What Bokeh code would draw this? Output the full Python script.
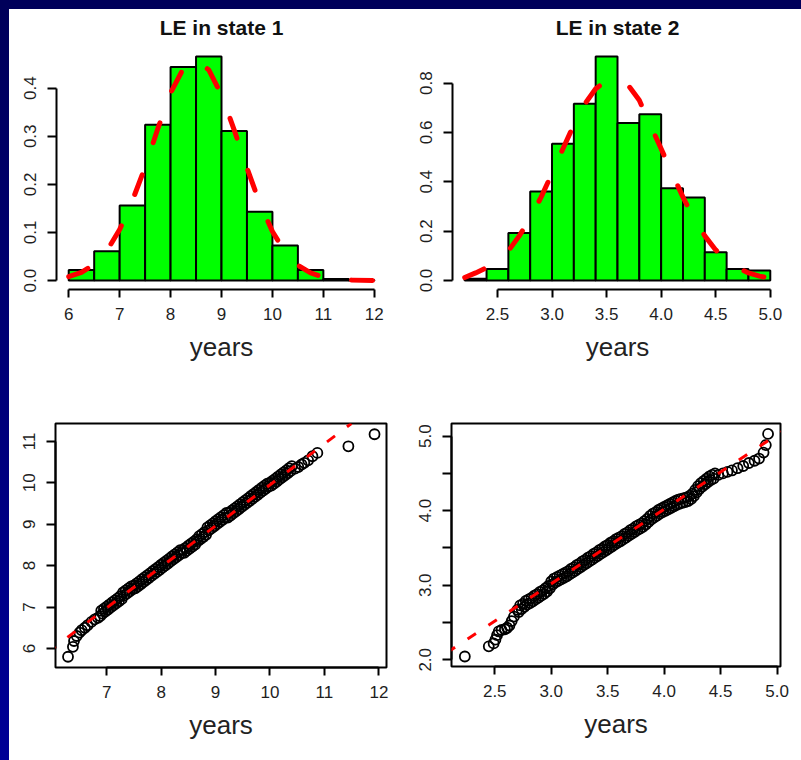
from bokeh.plotting import figure
from bokeh.models import Range1d, FixedTicker, PrintfTickFormatter, Slope, Title, Spacer
from bokeh.layouts import row, column
from bokeh.embed import file_html
from bokeh.resources import INLINE

# ---------------- data ----------------
titles = ["LE in state 1", "LE in state 2"]
xlabel = "years"

le1_edges = [6.0, 6.5, 7.0, 7.5, 8.0, 8.5, 9.0, 9.5, 10.0, 10.5, 11.0, 11.5, 12.0]
le1_density = [0.022, 0.061, 0.156, 0.324, 0.444, 0.466, 0.311, 0.143, 0.073, 0.022, 0.003, 0.001]
le1_curve_x = [6.0, 6.25, 6.5, 6.75, 7.0, 7.25, 7.5, 7.75, 8.0, 8.25, 8.5, 8.75, 9.0,
               9.25, 9.5, 9.75, 10.0, 10.25, 10.5, 10.75, 11.0, 11.5, 12.0]
le1_curve_y = [0.008, 0.017, 0.034, 0.062, 0.106, 0.166, 0.236, 0.316, 0.390, 0.441, 0.459,
               0.438, 0.386, 0.313, 0.234, 0.161, 0.102, 0.059, 0.032, 0.016, 0.007, 0.001, 0.0]

le2_edges = [2.2, 2.4, 2.6, 2.8, 3.0, 3.2, 3.4, 3.6, 3.8, 4.0, 4.2, 4.4, 4.6, 4.8, 5.0]
le2_density = [0.007, 0.047, 0.193, 0.361, 0.554, 0.716, 0.908, 0.638, 0.674, 0.374,
               0.336, 0.115, 0.047, 0.041]
le2_curve_x = [2.2, 2.3, 2.4, 2.5, 2.6, 2.7, 2.8, 2.9, 3.0, 3.1, 3.2, 3.3, 3.4, 3.5, 3.6,
               3.7, 3.8, 3.9, 4.0, 4.1, 4.2, 4.3, 4.4, 4.5, 4.6, 4.7, 4.8, 4.9, 5.0]
le2_curve_y = [0.012, 0.031, 0.052, 0.082, 0.120, 0.181, 0.252, 0.338, 0.434, 0.534, 0.631,
               0.715, 0.777, 0.810, 0.810, 0.790, 0.730, 0.631, 0.534, 0.434, 0.338, 0.252,
               0.181, 0.124, 0.082, 0.052, 0.031, 0.018, 0.010]

# QQ plot, state 1 (theoretical quantile, sample quantile)
qq1_x = [6.29, 6.38, 6.40, 6.45, 6.50, 6.54, 6.60, 6.65, 6.72, 6.78, 6.84, 6.88,
         6.900, 6.925, 6.950, 6.975, 7.000, 7.025, 7.050, 7.075, 7.100, 7.125,
         7.150, 7.175, 7.200, 7.225, 7.250, 7.275, 7.300, 7.325, 7.350, 7.375,
         7.400, 7.425, 7.450, 7.475, 7.500, 7.525, 7.550, 7.575, 7.600, 7.625,
         7.650, 7.675, 7.700, 7.725, 7.750, 7.775, 7.800, 7.825, 7.850, 7.875,
         7.900, 7.925, 7.950, 7.975, 8.000, 8.025, 8.050, 8.075, 8.100, 8.125,
         8.150, 8.175, 8.200, 8.225, 8.250, 8.275, 8.300, 8.325, 8.350, 8.375,
         8.400, 8.425, 8.450, 8.475, 8.500, 8.525, 8.550, 8.575, 8.600, 8.625,
         8.650, 8.675, 8.700, 8.725, 8.750, 8.775, 8.800, 8.825, 8.850, 8.875,
         8.900, 8.925, 8.950, 8.975, 9.000, 9.025, 9.050, 9.075, 9.100, 9.125,
         9.150, 9.175, 9.200, 9.225, 9.250, 9.275, 9.300, 9.325, 9.350, 9.375,
         9.400, 9.425, 9.450, 9.475, 9.500, 9.525, 9.550, 9.575, 9.600, 9.625,
         9.650, 9.675, 9.700, 9.725, 9.750, 9.775, 9.800, 9.825, 9.850, 9.875,
         9.900, 9.925, 9.950, 9.975, 10.000, 10.025, 10.050, 10.075, 10.100, 10.125,
         10.150, 10.175, 10.200, 10.225, 10.250, 10.275, 10.300, 10.325, 10.350, 10.375,
         10.400,
         10.46, 10.52, 10.58, 10.63, 10.70, 10.78, 10.87, 11.44, 11.92]
qq1_y = [5.80, 6.04, 6.18, 6.30, 6.38, 6.44, 6.50, 6.56, 6.64, 6.70, 6.74, 6.78,
         6.91, 6.84, 6.96, 6.89, 7.01, 6.94, 7.06, 6.99, 7.11, 7.04,
         7.16, 7.09, 7.21, 7.14, 7.26, 7.19, 7.35, 7.28, 7.40, 7.33,
         7.45, 7.38, 7.50, 7.43, 7.52, 7.45, 7.57, 7.50, 7.62, 7.55,
         7.67, 7.60, 7.72, 7.65, 7.77, 7.70, 7.82, 7.75, 7.87, 7.80,
         7.92, 7.85, 7.97, 7.90, 8.02, 7.95, 8.07, 8.00, 8.12, 8.05,
         8.17, 8.10, 8.22, 8.15, 8.27, 8.20, 8.32, 8.25, 8.37, 8.30,
         8.38, 8.31, 8.43, 8.36, 8.48, 8.41, 8.53, 8.46, 8.58, 8.51,
         8.63, 8.59, 8.71, 8.64, 8.76, 8.69, 8.81, 8.74, 8.92, 8.85,
         8.97, 8.90, 9.02, 8.95, 9.07, 9.00, 9.12, 9.05, 9.17, 9.10,
         9.22, 9.15, 9.27, 9.16, 9.28, 9.21, 9.33, 9.26, 9.38, 9.31,
         9.43, 9.36, 9.48, 9.41, 9.53, 9.46, 9.58, 9.51, 9.63, 9.56,
         9.68, 9.61, 9.73, 9.66, 9.78, 9.71, 9.83, 9.76, 9.88, 9.81,
         9.93, 9.86, 9.98, 9.91, 10.00, 9.93, 10.05, 9.98, 10.10, 10.03,
         10.15, 10.08, 10.20, 10.13, 10.25, 10.18, 10.30, 10.23, 10.35, 10.28,
         10.40,
         10.34, 10.38, 10.44, 10.48, 10.54, 10.64, 10.72, 10.88, 11.17]
qq1_line = {"gradient": 0.99, "intercept": 0.05}

# QQ plot, state 2
qq2_x = [2.235, 2.447, 2.49, 2.506, 2.52, 2.535, 2.56, 2.59, 2.61, 2.63, 2.65, 2.67,
         2.7000, 2.7125, 2.7250, 2.7375, 2.7500, 2.7625, 2.7750, 2.7875, 2.8000, 2.8125,
         2.8250, 2.8375, 2.8500, 2.8625, 2.8750, 2.8875, 2.9000, 2.9125, 2.9250, 2.9375,
         2.9500, 2.9625, 2.9750, 2.9875, 3.0000, 3.0125, 3.0250, 3.0375, 3.0500, 3.0625,
         3.0750, 3.0875, 3.1000, 3.1125, 3.1250, 3.1375, 3.1500, 3.1625, 3.1750, 3.1875,
         3.2000, 3.2125, 3.2250, 3.2375, 3.2500, 3.2625, 3.2750, 3.2875, 3.3000, 3.3125,
         3.3250, 3.3375, 3.3500, 3.3625, 3.3750, 3.3875, 3.4000, 3.4125, 3.4250, 3.4375,
         3.4500, 3.4625, 3.4750, 3.4875, 3.5000, 3.5125, 3.5250, 3.5375, 3.5500, 3.5625,
         3.5750, 3.5875, 3.6000, 3.6125, 3.6250, 3.6375, 3.6500, 3.6625, 3.6750, 3.6875,
         3.7000, 3.7125, 3.7250, 3.7375, 3.7500, 3.7625, 3.7750, 3.7875, 3.8000, 3.8125,
         3.8250, 3.8375, 3.8500, 3.8625, 3.8750, 3.8875, 3.9000, 3.9125, 3.9250, 3.9375,
         3.9500, 3.9625, 3.9750, 3.9875, 4.0000, 4.0125, 4.0250, 4.0375, 4.0500, 4.0625,
         4.0750, 4.0875, 4.1000, 4.1125, 4.1250, 4.1375, 4.1500, 4.1625, 4.1750, 4.1875,
         4.2000, 4.2125, 4.2250, 4.2375, 4.2500, 4.2625, 4.2750, 4.2875, 4.3000, 4.3125,
         4.3250, 4.3375, 4.3500, 4.3625, 4.3750, 4.3875, 4.4000, 4.4125, 4.4250, 4.4375,
         4.4500,
         4.48, 4.52, 4.56, 4.60, 4.65, 4.70, 4.75, 4.80, 4.84, 4.88, 4.90, 4.92]
qq2_y = [2.044, 2.18, 2.22, 2.27, 2.33, 2.38, 2.40, 2.41, 2.43, 2.46, 2.52, 2.58,
         2.67, 2.64, 2.73, 2.68, 2.75, 2.71, 2.79, 2.74, 2.81, 2.76,
         2.83, 2.785, 2.86, 2.81, 2.88, 2.835, 2.91, 2.86, 2.93, 2.885,
         2.96, 2.915, 2.99, 2.96, 3.05, 3.01, 3.09, 3.04, 3.11, 3.06,
         3.13, 3.08, 3.15, 3.10, 3.17, 3.12, 3.19, 3.145, 3.22, 3.17,
         3.24, 3.195, 3.27, 3.22, 3.29, 3.245, 3.32, 3.27, 3.34, 3.295,
         3.37, 3.32, 3.39, 3.345, 3.42, 3.37, 3.44, 3.395, 3.47, 3.42,
         3.49, 3.445, 3.52, 3.47, 3.54, 3.495, 3.57, 3.52, 3.59, 3.545,
         3.62, 3.57, 3.64, 3.59, 3.66, 3.615, 3.69, 3.64, 3.71, 3.665,
         3.74, 3.69, 3.76, 3.715, 3.79, 3.74, 3.81, 3.76, 3.83, 3.785,
         3.86, 3.815, 3.89, 3.85, 3.93, 3.885, 3.96, 3.91, 3.98, 3.935,
         4.01, 3.96, 4.03, 3.98, 4.05, 4.00, 4.07, 4.02, 4.09, 4.04,
         4.11, 4.06, 4.13, 4.08, 4.15, 4.095, 4.16, 4.105, 4.17, 4.115,
         4.18, 4.13, 4.20, 4.155, 4.23, 4.195, 4.28, 4.245, 4.33, 4.29,
         4.37, 4.325, 4.40, 4.355, 4.43, 4.385, 4.46, 4.41, 4.48, 4.43,
         4.50,
         4.48, 4.50, 4.52, 4.54, 4.57, 4.60, 4.64, 4.67, 4.70, 4.78, 4.88, 5.03]
qq2_line = {"gradient": 1.0, "intercept": 0.02}

tl_xticks = [6, 7, 8, 9, 10, 11, 12]
tl_yticks = [0.0, 0.1, 0.2, 0.3, 0.4]
tr_xticks = [2.5, 3.0, 3.5, 4.0, 4.5, 5.0]
tr_yticks = [0.0, 0.2, 0.4, 0.6, 0.8]
bl_xticks = [7, 8, 9, 10, 11, 12]
bl_yticks = [6, 7, 8, 9, 10, 11]
br_xticks = [2.5, 3.0, 3.5, 4.0, 4.5, 5.0]
br_yticks = [2.0, 2.5, 3.0, 3.5, 4.0, 4.5, 5.0]
br_hidden_ylabels = [2.5, 3.5, 4.5]

# ---------------- styling ----------------
FONT = "Liberation Sans"
TXT = "#1e1e1e"
NAVY = "linear-gradient(#00005a, #000096)"


def make_fig(xr, yr, fw, fh, ml, mr, mt, mb, xticks, yticks, xfmt, yfmt, title=None, box=False):
    p = figure(frame_width=fw, frame_height=fh, x_range=Range1d(*xr), y_range=Range1d(*yr),
               output_backend="svg", toolbar_location=None,
               min_border_left=ml, min_border_right=mr, min_border_top=mt, min_border_bottom=mb)
    p.grid.visible = False
    p.background_fill_color = "white"
    p.border_fill_color = "white"
    if box:
        p.outline_line_color = "black"
        p.outline_line_width = 2
    else:
        p.outline_line_color = None
    for ax, ticks, fmt in ((p.xaxis[0], xticks, xfmt), (p.yaxis[0], yticks, yfmt)):
        ax.ticker = FixedTicker(ticks=ticks)
        ax.bounds = (min(ticks), max(ticks))
        ax.formatter = PrintfTickFormatter(format=fmt)
        ax.axis_line_width = 2
        ax.major_tick_line_width = 2
        ax.major_tick_in = 0
        ax.minor_tick_in = 0
        ax.minor_tick_out = 0
        ax.major_label_text_font = FONT
        ax.major_label_text_font_size = "17px"
        ax.major_label_text_color = TXT
    p.xaxis[0].major_tick_out = 8
    p.xaxis[0].major_label_standoff = 10
    p.yaxis[0].major_tick_out = 9
    p.yaxis[0].major_label_standoff = 11
    p.yaxis[0].major_label_orientation = "vertical"
    if title:
        p.title.text = title
        p.title.align = "center"
        p.title.vertical_align = "top"
        p.title.text_font = FONT
        p.title.text_font_size = "21px"
        p.title.text_font_style = "bold"
        p.title.text_color = "#111111"
        p.title.standoff = 13
    lab = Title(text=xlabel, align="center", text_font=FONT, text_font_size="26px",
                text_font_style="normal", text_color="#222222", standoff=15)
    p.add_layout(lab, "below")
    return p


def qq_points(p, xs, ys):
    p.scatter(xs, ys, marker="circle", size=10, fill_color=None,
              line_color="black", line_width=1.8)


# top-left histogram
tl = make_fig((5.76, 12.24), (-0.0186, 0.4846), 330, 242, 47, 19, 38, 96,
              tl_xticks, tl_yticks, "%d", "%.1f", title=titles[0])
tl.quad(left=le1_edges[:-1], right=le1_edges[1:], bottom=0, top=le1_density,
        fill_color="#00FF00", line_color="black", line_width=2)
tl.line(le1_curve_x, le1_curve_y, line_color="#FF0000", line_width=5,
        line_dash="21 34", line_cap="round")

# top-right histogram
tr = make_fig((2.088, 5.112), (-0.0363, 0.944), 330, 242, 47, 19, 38, 96,
              tr_xticks, tr_yticks, "%.1f", "%.1f", title=titles[1])
tr.quad(left=le2_edges[:-1], right=le2_edges[1:], bottom=0, top=le2_density,
        fill_color="#00FF00", line_color="black", line_width=2)
tr.line(le2_curve_x, le2_curve_y, line_color="#FF0000", line_width=5,
        line_dash="21 34", line_cap="round")

# bottom-left QQ
bl = make_fig((6.06, 12.14), (5.54, 11.43), 331, 244, 46, 19, 38, 93,
              bl_xticks, bl_yticks, "%d", "%d", box=True)
qq_points(bl, qq1_x, qq1_y)
bl.add_layout(Slope(gradient=qq1_line["gradient"], y_intercept=qq1_line["intercept"],
                    line_color="#FF0000", line_width=3, line_dash="10 15"))

# bottom-right QQ
br = make_fig((2.117, 5.03), (1.91, 5.17), 329, 243, 46, 21, 38, 94,
              br_xticks, br_yticks, "%.1f", "%.1f", box=True)
br.yaxis[0].major_label_overrides = {v: "" for v in br_hidden_ylabels}
qq_points(br, qq2_x, qq2_y)
br.add_layout(Slope(gradient=qq2_line["gradient"], y_intercept=qq2_line["intercept"],
                    line_color="#FF0000", line_width=3, line_dash="10 15"))

inner = column(row(tl, tr), row(bl, br), styles={"background-color": "white"})
root = column(
    Spacer(width=801, height=9, styles={"background": "#00005a"}),
    row(Spacer(width=9, height=751, styles={"background": NAVY}), inner),
)

with open("out.html", "w") as f:
    f.write(file_html(root, INLINE))
